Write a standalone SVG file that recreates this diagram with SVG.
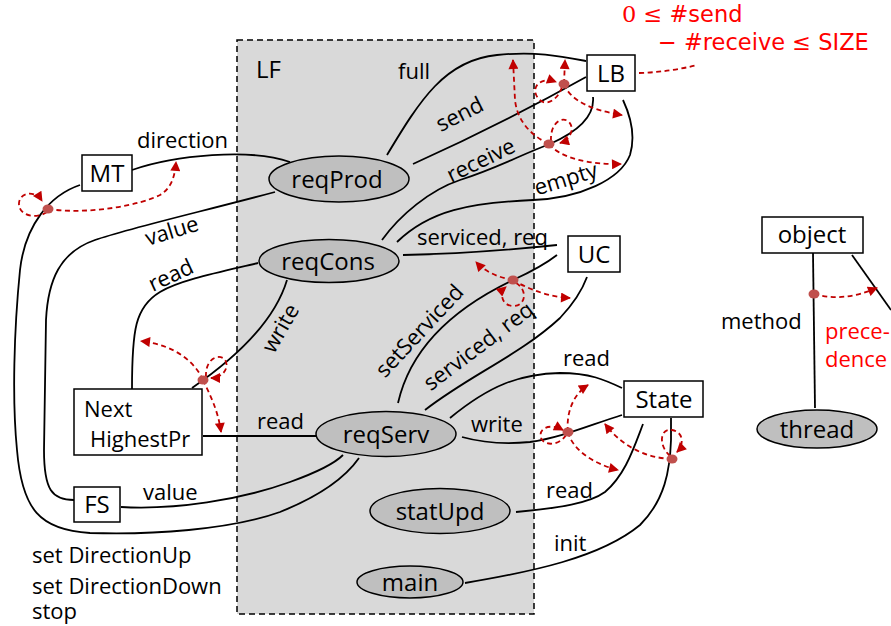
<svg xmlns="http://www.w3.org/2000/svg" width="891" height="626" viewBox="0 0 891 626">
  <defs>
    <marker id="arr" viewBox="0 0 10 10" refX="9" refY="5" markerWidth="12" markerHeight="10" markerUnits="userSpaceOnUse" orient="auto">
      <path d="M0,0 L10,5 L0,10 Z" fill="#c00000" stroke="none"/>
    </marker>
    <style>
      .t { font-family: "Open Sans", "Liberation Sans", sans-serif; font-size: 22px; fill: #000; }
      .n { font-family: "Open Sans", "Liberation Sans", sans-serif; font-size: 24px; fill: #000; text-anchor: middle; }
      .box { fill: #fff; stroke: #000; stroke-width: 1.5; }
      .ell { fill: #bfbfbf; stroke: #000; stroke-width: 1.5; }
      .e { fill: none; stroke: #000; stroke-width: 1.8; }
      .r { fill: none; stroke: #c00000; stroke-width: 1.8; stroke-dasharray: 5 3.5; }
      .rm { marker-end: url(#arr); }
      .dot { fill: #c0504d; }
      .red { font-family: "DejaVu Sans", sans-serif; font-size: 22.5px; fill: #ff0000; }
    </style>
  </defs>

  <!-- LF region -->
  <g id="LF">
    <rect x="237" y="40" width="297" height="574" fill="#d9d9d9" stroke="#000" stroke-width="1.5" stroke-dasharray="6 4"/>
    <text class="t" x="256" y="78" style="font-size:24px">LF</text>
  </g>

  <!-- connectors -->
  <g id="connectors">
    <path class="e" d="M132,170 C175,155 250,148 290,162"/>
    <path class="e" d="M387,155 C420,100 445,60 497,55 C535,51 560,56 586,61"/>
    <path class="e" d="M413,164 Q500,125 586,77"/>
    <path class="e" d="M382,240 C400,215 430,190 460,180 C500,167 520,155 550,144 C575,133 595,118 593,97"/>
    <path class="e" d="M397,242 C430,210 470,203 533,200 C580,198 620,180 630,155 C636,135 630,115 623,100"/>
    <path class="e" d="M403,255 C450,254 500,251 557,245"/>
    <path class="e" d="M398,403 C410,350 450,310 513,280 C535,270 548,262 557,255"/>
    <path class="e" d="M425,410 C470,375 520,355 560,318 C575,302 583,288 587,277"/>
    <path class="e" d="M450,418 C490,385 520,374 560,373 C590,373 605,380 622,388"/>
    <path class="e" d="M462,437 C480,442 500,445 530,442 C560,438 590,425 622,415"/>
    <path class="e" d="M516,512 C560,508 590,503 605,492 C625,475 633,450 643,424"/>
    <path class="e" d="M465,583 C530,572 600,558 640,525 C665,500 670,470 671,440 L671,418"/>
    <path class="e" d="M203,436 L316,436"/>
    <path class="e" d="M258,263 C220,272 180,280 160,292 C135,307 132,330 132,389"/>
    <path class="e" d="M287,280 C275,320 240,355 192,388"/>
    <path class="e" d="M275,192 C200,212 130,228 95,240 C60,252 48,280 46,320 L44,450 C44,490 52,500 74,500"/>
    <path class="e" d="M80,185 C50,195 25,225 20,270 C14,330 12,400 17,450 C22,510 40,530 90,533 C150,535 230,530 280,512 C320,496 345,478 359,458"/>
    <path class="e" d="M121,507 C175,510 240,500 290,482 C315,473 333,465 343,455"/>
    <path class="e" d="M813,253 L815,408"/>
    <path class="e" d="M852,255 L891,310"/>

    <!-- edge labels -->
    <text class="t" x="137" y="148">direction</text>
    <text class="t" x="398" y="79">full</text>
    <text class="t" text-anchor="middle" transform="translate(463,121) rotate(-27)">send</text>
    <text class="t" text-anchor="middle" transform="translate(484,167) rotate(-26)">receive</text>
    <text class="t" text-anchor="middle" transform="translate(568,186) rotate(-17)">empty</text>
    <text class="t" x="417" y="245">serviced, req</text>
    <text class="t" text-anchor="middle" transform="translate(425,336) rotate(-47)">setServiced</text>
    <text class="t" text-anchor="middle" transform="translate(483,352) rotate(-37)">serviced, req</text>
    <text class="t" x="563" y="366">read</text>
    <text class="t" x="471" y="432">write</text>
    <text class="t" x="546" y="498">read</text>
    <text class="t" x="554" y="551">init</text>
    <text class="t" x="257" y="429">read</text>
    <text class="t" text-anchor="middle" transform="translate(174,282) rotate(-25)">read</text>
    <text class="t" text-anchor="middle" transform="translate(287,332) rotate(-60)">write</text>
    <text class="t" text-anchor="middle" transform="translate(174,238) rotate(-17)">value</text>
    <text class="t" x="143" y="500">value</text>
    <text class="t" x="32" y="563">set DirectionUp</text>
    <text class="t" x="32" y="594">set DirectionDown</text>
    <text class="t" x="32" y="619">stop</text>
    <text class="t" x="721" y="329">method</text>

    <!-- precedence annotations -->
    <path class="r" d="M639,73 Q670,72 697,65"/>
    <text class="red" x="622" y="22"><tspan font-family="DejaVu Serif, serif">0 ≤ </tspan>#send</text>
    <text class="red" x="658" y="50">− #receive ≤ SIZE</text>
    <text class="t" x="825" y="339" style="fill:#ff0000">prece-</text>
    <text class="t" x="825" y="367" style="fill:#ff0000">dence</text>

    <path class="r rm" d="M47,212 C35,220 18,215 19,203 C20,192 35,190 42,201"/>
    <path class="r rm" d="M48,209 C90,215 140,205 160,195 C172,188 175,175 176,162"/>

    <path class="r rm" d="M564,84 L565,60"/>
    <path class="r rm" d="M562,87 C558,100 545,108 538,98 C530,88 540,76 556,82"/>
    <path class="r rm" d="M564,84 C570,100 590,110 622,115"/>

    <path class="r rm" d="M551,141 C550,125 560,116 568,121 C576,128 570,140 560,143"/>
    <path class="r rm" d="M549,144 C530,135 517,120 515,100 L513,60"/>
    <path class="r rm" d="M549,144 C560,158 590,165 621,164"/>

    <path class="r rm" d="M513,280 C500,278 485,272 476,262"/>
    <path class="r rm" d="M513,280 C530,290 550,297 570,298"/>
    <path class="r rm" d="M516,283 C528,290 526,306 513,306 C500,305 500,292 506,287"/>

    <path class="r rm" d="M203,380 C195,362 175,345 141,341"/>
    <path class="r rm" d="M203,380 C210,395 218,410 221,432"/>
    <path class="r rm" d="M206,377 C205,362 215,354 223,358 C231,364 225,378 211,378"/>

    <path class="r rm" d="M568,432 C566,415 572,395 588,385"/>
    <path class="r rm" d="M568,432 C572,448 590,463 618,470"/>
    <path class="r rm" d="M566,435 C560,445 545,447 541,438 C538,428 550,423 563,430"/>

    <path class="r rm" d="M672,459 C650,458 625,450 605,424"/>
    <path class="r rm" d="M670,456 C658,445 660,428 672,430 C684,432 684,445 677,452"/>

    <path class="r rm" d="M814,294 C835,300 855,297 877,288"/>

    <ellipse class="dot" cx="48" cy="209" rx="5.5" ry="4.5"/>
    <ellipse class="dot" cx="564" cy="84" rx="5.5" ry="4.5"/>
    <ellipse class="dot" cx="549" cy="144" rx="5.5" ry="4.5"/>
    <ellipse class="dot" cx="513" cy="280" rx="5.5" ry="4.5"/>
    <ellipse class="dot" cx="203" cy="380" rx="5.5" ry="4.5"/>
    <ellipse class="dot" cx="568" cy="432" rx="5.5" ry="4.5"/>
    <ellipse class="dot" cx="672" cy="459" rx="5.5" ry="4.5"/>
    <ellipse class="dot" cx="814" cy="294" rx="5.5" ry="4.5"/>
  </g>

  <!-- nodes -->
  <g id="MT"><rect class="box" x="82" y="155" width="50" height="36"/><text class="n" x="107" y="182">MT</text></g>
  <g id="LB"><rect class="box" x="587" y="55" width="48" height="36"/><text class="n" x="611" y="82">LB</text></g>
  <g id="UC"><rect class="box" x="568" y="236" width="52" height="36"/><text class="n" x="594" y="263">UC</text></g>
  <g id="State"><rect class="box" x="624" y="381" width="79" height="36"/><text class="n" x="664" y="408">State</text></g>
  <g id="object"><rect class="box" x="762" y="217" width="101" height="36"/><text class="n" x="812" y="243">object</text></g>
  <g id="NextHighestPr"><rect class="box" x="74" y="389" width="128" height="66"/><text class="t" x="84" y="417">Next</text><text class="t" x="90" y="447">HighestPr</text></g>
  <g id="FS"><rect class="box" x="74" y="487" width="46" height="35"/><text class="n" x="97" y="513">FS</text></g>
  <g id="reqProd"><ellipse class="ell" cx="339" cy="179" rx="70" ry="23"/><text class="n" x="337" y="188">reqProd</text></g>
  <g id="reqCons"><ellipse class="ell" cx="329" cy="261" rx="70" ry="21.5"/><text class="n" x="328" y="270">reqCons</text></g>
  <g id="reqServ"><ellipse class="ell" cx="386" cy="434" rx="70" ry="22.5"/><text class="n" x="386" y="443">reqServ</text></g>
  <g id="statUpd"><ellipse class="ell" cx="440" cy="511" rx="70" ry="22.5"/><text class="n" x="440" y="520">statUpd</text></g>
  <g id="main"><ellipse class="ell" cx="410" cy="582" rx="53" ry="16"/><text class="n" x="410" y="591">main</text></g>
  <g id="thread"><ellipse class="ell" cx="817" cy="429" rx="60" ry="19"/><text class="n" x="817" y="438">thread</text></g>
</svg>
